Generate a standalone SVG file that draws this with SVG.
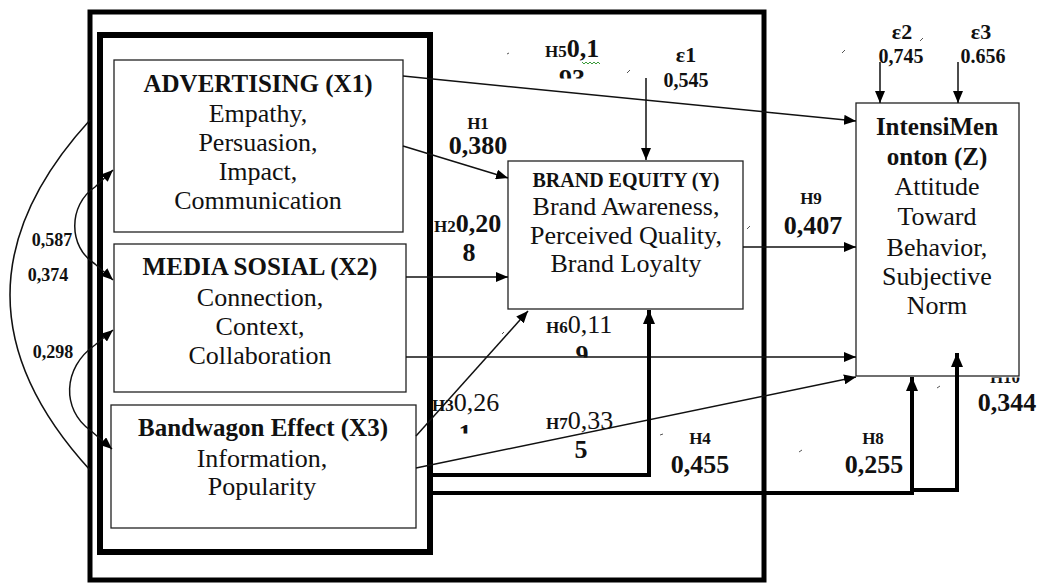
<svg xmlns="http://www.w3.org/2000/svg" width="1039" height="584" viewBox="0 0 1039 584">
<style>
  text { font-family: "Liberation Serif", "Times New Roman", serif; fill: #111; }
  .title { font-weight: bold; font-size: 25px; text-anchor: middle; }
  .body { font-size: 26px; text-anchor: middle; }
  .box { fill: #fff; stroke: #222; stroke-width: 1.3; }
  .frame { fill: none; stroke: #000; }
  .ln { fill: none; stroke: #111; stroke-width: 1.5; }
  .thick { fill: none; stroke: #000; stroke-width: 4; }
  .h { font-weight: bold; font-size: 17px; }
  .v { font-weight: bold; font-size: 26px; }
  .vr { font-size: 26px; }
  .c { text-anchor: middle; }
  .eps { font-weight: bold; font-size: 22px; text-anchor: middle; }
  .ev { font-weight: bold; font-size: 20px; text-anchor: middle; }
  .cor { font-weight: bold; font-size: 18px; text-anchor: middle; }
  .mark { stroke: #555; stroke-width: 1; fill: none; }
</style>
<defs>
  <marker id="ah" viewBox="0 0 12 10" refX="12" refY="5" markerWidth="12" markerHeight="10" markerUnits="userSpaceOnUse" orient="auto-start-reverse">
    <path d="M0,0 L12,5 L0,10 z" fill="#000"/>
  </marker>
  <marker id="ahb" viewBox="0 0 14 12" refX="14" refY="6" markerWidth="14" markerHeight="12" markerUnits="userSpaceOnUse" orient="auto">
    <path d="M0,0 L14,6 L0,12 z" fill="#000"/>
  </marker>
  <clipPath id="c93"><rect x="550" y="60" width="50" height="18.5"/></clipPath>
  <clipPath id="c9"><rect x="565" y="335" width="40" height="22.5"/></clipPath>
  <clipPath id="c1"><rect x="450" y="415" width="30" height="18.5"/></clipPath>
  <clipPath id="c10"><rect x="970" y="377.5" width="60" height="12"/></clipPath>
</defs>

<g id="frames">
  <rect class="frame" x="90" y="12" width="674" height="568" stroke-width="5"/>
  <rect class="frame" x="100" y="35" width="330" height="517" stroke-width="6"/>
</g>

<g id="node-x1">
  <rect class="box" x="114" y="60" width="289" height="172"/>
  <text class="title" x="258" y="92">ADVERTISING (X1)</text>
  <text class="body" x="258" y="122">Empathy,</text>
  <text class="body" x="258" y="151">Persuasion,</text>
  <text class="body" x="258" y="180">Impact,</text>
  <text class="body" x="258" y="209">Communication</text>
</g>
<g id="node-x2">
  <rect class="box" x="114" y="244" width="292" height="148"/>
  <text class="title" x="260" y="275">MEDIA SOSIAL (X2)</text>
  <text class="body" x="260" y="306">Connection,</text>
  <text class="body" x="260" y="335">Context,</text>
  <text class="body" x="260" y="364">Collaboration</text>
</g>
<g id="node-x3">
  <rect class="box" x="111" y="405" width="305" height="123"/>
  <text class="title" x="263" y="436">Bandwagon Effect (X3)</text>
  <text class="body" x="262" y="467">Information,</text>
  <text class="body" x="262" y="495">Popularity</text>
</g>
<g id="node-y">
  <rect class="box" x="508" y="161" width="235" height="148"/>
  <text class="title" x="626" y="187" style="font-size:20px">BRAND EQUITY (Y)</text>
  <text class="body" x="626" y="215">Brand Awareness,</text>
  <text class="body" x="626" y="244">Perceived Quality,</text>
  <text class="body" x="626" y="272">Brand Loyalty</text>
</g>
<g id="node-z">
  <rect class="box" x="856" y="103" width="163" height="273"/>
  <text class="title" x="937" y="135">IntensiMen</text>
  <text class="title" x="937" y="165">onton (Z)</text>
  <text class="body" x="937" y="195">Attitude</text>
  <text class="body" x="937" y="225">Toward</text>
  <text class="body" x="937" y="256">Behavior,</text>
  <text class="body" x="937" y="285">Subjective</text>
  <text class="body" x="937" y="314">Norm</text>
</g>

<g id="connectors">
  <path class="ln" d="M403,76 L856,121" marker-end="url(#ah)"/>
  <path class="ln" d="M403,146 L508,178" marker-end="url(#ah)"/>
  <path class="ln" d="M406,277 L508,277" marker-end="url(#ah)"/>
  <path class="ln" d="M406,357 L856,357" marker-end="url(#ah)"/>
  <path class="ln" d="M416,436 L528,311" marker-end="url(#ah)"/>
  <path class="ln" d="M416,468 L856,377" marker-end="url(#ah)"/>
  <path class="ln" d="M743,247 L856,247" marker-end="url(#ah)"/>
  <path class="ln" d="M646,78 L646,160" marker-end="url(#ah)"/>
  <path class="ln" d="M880,62 L880,103" marker-end="url(#ah)"/>
  <path class="ln" d="M958,62 L958,103" marker-end="url(#ah)"/>
  <path class="thick" d="M430,475 L649,475 L649,310" marker-end="url(#ahb)"/>
  <path class="thick" d="M430,493 L912,493 L912,377" marker-end="url(#ahb)"/>
  <path class="thick" d="M912,490 L957,490 L957,353" stroke-width="3.5" marker-end="url(#ahb)"/>
  <path class="ln" d="M90,120 Q-70,295 90,470"/>
  <path class="ln" d="M113,170 L95,187 C68,205 68,247 95,264 L113,280" marker-start="url(#ah)" marker-end="url(#ah)"/>
  <path class="ln" d="M113,330 L95,345 C62,368 62,410 90,430 L112,449" marker-start="url(#ah)" marker-end="url(#ah)"/>
</g>

<g id="labels">
  <text x="545" y="57"><tspan class="h">H5</tspan><tspan class="v">0,1</tspan></text>
  <polyline points="582,62 584,64 586,62 588,64 590,62 592,64 594,62 596,64 598,62 600,64" fill="none" stroke="#3a9a3a" stroke-width="1"/>
  <text class="v c" x="572" y="87" clip-path="url(#c93)">93</text>
  <text class="h c" x="478" y="129">H1</text>
  <text class="v c" x="478" y="154">0,380</text>
  <text x="434" y="232"><tspan class="h">H2</tspan><tspan class="v">0,20</tspan></text>
  <text class="v c" x="469" y="261">8</text>
  <text x="546" y="333"><tspan class="h">H6</tspan><tspan class="vr">0,11</tspan></text>
  <text class="v c" x="582" y="363" clip-path="url(#c9)">9</text>
  <text x="432" y="411"><tspan class="h">H3</tspan><tspan class="vr">0,26</tspan></text>
  <text class="v c" x="465" y="442" clip-path="url(#c1)">1</text>
  <text x="546" y="429"><tspan class="h">H7</tspan><tspan class="vr">0,33</tspan></text>
  <text class="v c" x="581" y="458">5</text>
  <text class="h c" x="811" y="204">H9</text>
  <text class="v c" x="813" y="234">0,407</text>
  <text class="h c" x="700" y="444">H4</text>
  <text class="v c" x="700" y="473">0,455</text>
  <text class="h c" x="873" y="444">H8</text>
  <text class="v c" x="874" y="473">0,255</text>
  <text class="h c" x="1005" y="383" clip-path="url(#c10)">H10</text>
  <text class="v c" x="1007" y="411">0,344</text>
  <text class="eps" x="686" y="62">ε1</text>
  <text class="ev" x="686" y="87">0,545</text>
  <text class="eps" x="902" y="39">ε2</text>
  <text class="ev" x="901" y="63">0,745</text>
  <text class="eps" x="981" y="39">ε3</text>
  <text class="ev" x="983" y="63">0.656</text>
  <text class="cor" x="52" y="246">0,587</text>
  <text class="cor" x="48" y="281">0,374</text>
  <text class="cor" x="53" y="358">0,298</text>
</g>

<g id="specks">
  <path class="mark" d="M507,54 L509,53"/>
  <path class="mark" d="M627,73 L630,70"/>
  <path class="mark" d="M842,53 L845,50"/>
  <path class="mark" d="M920,41 L923,38"/>
  <path class="mark" d="M747,229 L750,226"/>
  <path class="mark" d="M502,334 L504,332"/>
  <path class="mark" d="M660,435 L663,434"/>
  <path class="mark" d="M799,452 L802,450"/>
  <path class="mark" d="M937,388 L940,386"/>
</g>
</svg>
